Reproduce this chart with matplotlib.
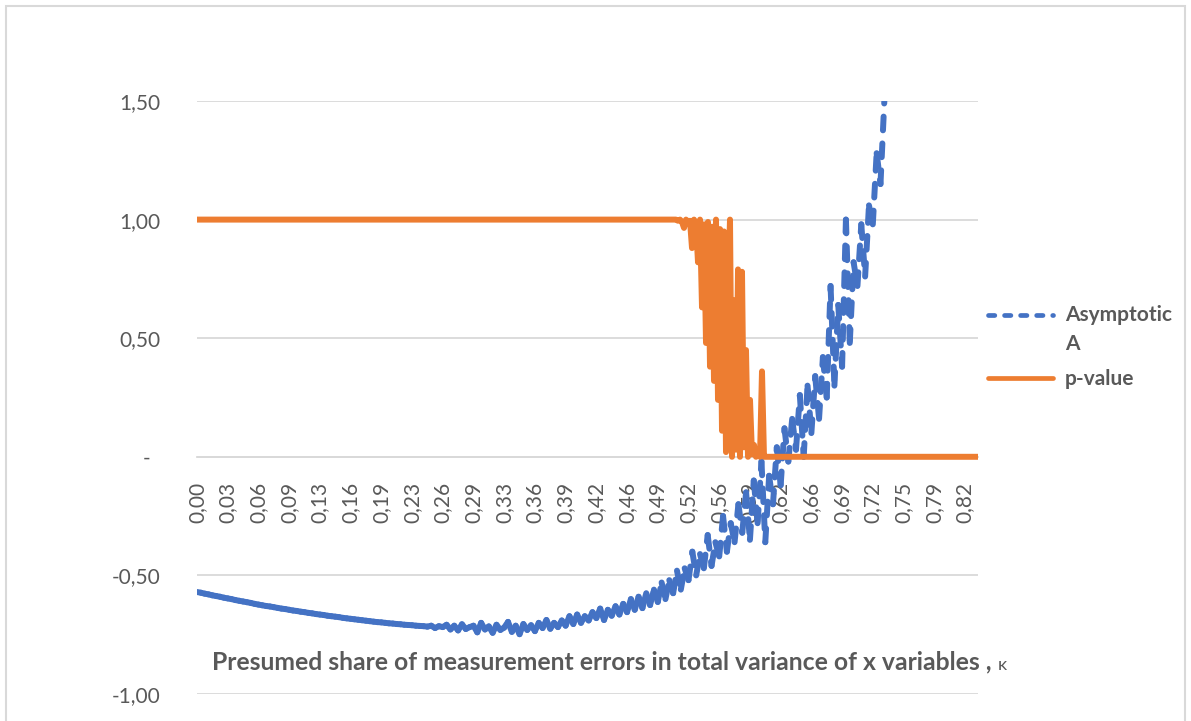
import numpy as np
import matplotlib
matplotlib.use("Agg")
import matplotlib.pyplot as plt
from matplotlib.collections import LineCollection
from matplotlib.lines import Line2D
from matplotlib.legend_handler import HandlerLine2D
from matplotlib.patches import Rectangle

plt.rcParams['font.family'] = ['Lato', 'DejaVu Sans']

# ---------------- data ----------------
kappa_step = 0.0041  # spacing of kappa categories for the "Asymptotic A" series
asym_A = [
    -0.570, -0.573, -0.577, -0.580, -0.584, -0.587, -0.590, -0.594,
    -0.597, -0.600, -0.604, -0.607, -0.610, -0.613, -0.616, -0.620,
    -0.623, -0.626, -0.629, -0.631, -0.634, -0.637, -0.640, -0.642,
    -0.645, -0.648, -0.650, -0.653, -0.655, -0.658, -0.660, -0.663,
    -0.665, -0.667, -0.670, -0.672, -0.674, -0.676, -0.679, -0.681,
    -0.683, -0.685, -0.687, -0.689, -0.691, -0.693, -0.695, -0.697,
    -0.698, -0.700, -0.702, -0.703, -0.705, -0.706, -0.708, -0.709,
    -0.710, -0.712, -0.713, -0.714, -0.716, -0.712, -0.722, -0.714,
    -0.718, -0.708, -0.728, -0.712, -0.732, -0.706, -0.726, -0.718,
    -0.712, -0.740, -0.700, -0.728, -0.715, -0.742, -0.708, -0.730,
    -0.720, -0.696, -0.738, -0.712, -0.748, -0.705, -0.730, -0.710,
    -0.735, -0.700, -0.722, -0.688, -0.725, -0.700, -0.718, -0.690,
    -0.712, -0.672, -0.705, -0.665, -0.700, -0.672, -0.690, -0.655,
    -0.680, -0.640, -0.688, -0.645, -0.670, -0.630, -0.665, -0.620,
    -0.655, -0.600, -0.645, -0.590, -0.638, -0.575, -0.625, -0.560,
    -0.612, -0.530, -0.600, -0.520, -0.575, -0.480, -0.560, -0.470,
    -0.520, -0.400, -0.500, -0.410, -0.470, -0.330, -0.460, -0.360,
    -0.420, -0.250, -0.400, -0.280, -0.360, -0.200, -0.320, -0.150,
    -0.350, -0.100, -0.280, -0.020, -0.360, -0.080, -0.200, 0.040,
    -0.120, 0.120, -0.020, 0.160, 0.030, 0.260, 0.000, 0.300,
    0.100, 0.340, 0.160, 0.420, 0.250, 0.720, 0.300, 0.640,
    0.380, 1.000, 0.480, 0.820, 0.720, 0.980, 0.760, 1.060,
    0.980, 1.280, 1.150, 1.500,
]

pvalue_flat_start = 0.0      # p-value equals 1 from here...
pvalue_noisy_start = 0.5072  # ...to here, then fluctuates
pvalue_step = 0.002135
pvalue_noisy = [
    1.00, 1.00, 1.00, 0.995, 1.00, 0.99, 0.965, 1.00,
    0.99, 0.995, 0.88, 1.00, 0.98, 0.82, 1.00, 0.63,
    0.98, 0.48, 0.99, 0.38, 0.97, 0.32, 1.00, 0.24,
    0.96, 0.11, 0.95, 0.02, 0.70, 1.00, 0.00, 0.66,
    0.03, 0.79, 0.00, 0.78, 0.04, 0.45, 0.00, 0.24,
    0.01, 0.05, 0.00, 0.02, 0.00, 0.36, 0.00, 0.00,
]
pvalue_end = 0.8336          # p-value stays 0 up to the last category

x_tick_labels = ['0,00', '0,03', '0,06', '0,09', '0,13', '0,16', '0,19', '0,23',
                 '0,26', '0,29', '0,33', '0,36', '0,39', '0,42', '0,46', '0,49',
                 '0,52', '0,56', '0,59', '0,62', '0,66', '0,69', '0,72', '0,75',
                 '0,79', '0,82']
x_tick_step = 0.0328
y_ticks = [-1.0, -0.5, 0.0, 0.5, 1.0, 1.5]
y_tick_labels = ['-1,00', '-0,50', '-  ', '0,50', '1,00', '1,50']

# ---------------- figure ----------------
W, H = 1191, 721
fig = plt.figure(figsize=(W / 100, H / 100), dpi=100)
fig.patches.append(Rectangle((6 / W, -0.02), (1185 - 6) / W, 1.02 - 6 / H,
                             transform=fig.transFigure, fill=False,
                             edgecolor='#D9D9D9', linewidth=1.5))

ax = fig.add_axes([197 / W, 1 - 694 / H, (977.7 - 197) / W, (694 - 101) / H])
grey = '#595959'
blue = '#4472C4'
orange = '#ED7D31'

for s in ['top', 'right', 'left']:
    ax.spines[s].set_visible(False)
ax.spines['bottom'].set_position(('data', 0))
ax.spines['bottom'].set_color('#D9D9D9')
ax.spines['bottom'].set_linewidth(1.3)

# Asymptotic A: dashed, dash pattern restarting at each data point (like Excel)
xa = np.arange(len(asym_A)) * kappa_step
pts = np.column_stack([xa, asym_A])
segs = np.stack([pts[:-1], pts[1:]], axis=1)
lc = LineCollection(segs, colors=blue, linewidths=4.3,
                    linestyles=[(0, (2.3, 2.2))], capstyle='round', zorder=3)
ax.add_collection(lc)

# p-value
xp = np.concatenate([[pvalue_flat_start],
                     pvalue_noisy_start + np.arange(len(pvalue_noisy)) * pvalue_step,
                     [pvalue_end]])
yp = np.concatenate([[1.0], pvalue_noisy, [0.0]])
ax.plot(xp, yp, color=orange, lw=4.3, solid_joinstyle='round', zorder=4)

ax.set_xlim(0, 0.8336)
ax.set_ylim(-1.0, 1.5)

ax.set_yticks(y_ticks)
ax.set_yticklabels(y_tick_labels)
ax.set_xticks(np.arange(len(x_tick_labels)) * x_tick_step)
ax.set_xticklabels(x_tick_labels)

ax.grid(axis='y', color='#D9D9D9', linewidth=1.3)
ax.set_axisbelow(True)
ax.tick_params(axis='both', length=0, labelsize=15, labelcolor=grey)
ax.tick_params(axis='x', pad=18, labelrotation=90)
ax.tick_params(axis='y', pad=26)

# axis title
t = fig.text(605 / W, 1 - 662 / H,
             'Presumed share of measurement errors in total variance of x variables , ',
             ha='center', va='center', fontsize=17.8, fontweight='bold', color=grey)
ax.annotate('κ', xy=(1, 0), xycoords=t, xytext=(0, 0), textcoords='offset points',
            ha='left', va='bottom', fontsize=13, color=grey, annotation_clip=False)


# legend (handle of the two-line entry aligned with its first line, as in Excel)
class TopLineHandler(HandlerLine2D):
    def __init__(self, shift_pt=0.0, **kw):
        super().__init__(**kw)
        self.shift_pt = shift_pt

    def create_artists(self, *args, **kwargs):
        arts = super().create_artists(*args, **kwargs)
        for a in arts:
            a.set_ydata(np.asarray(a.get_ydata(), dtype=float) + self.shift_pt)
        return arts


h1 = Line2D([], [], color=blue, lw=3.4, linestyle=(0, (1.34, 2.06)),
            dash_capstyle='round')
h2 = Line2D([], [], color=orange, lw=3.4, solid_capstyle='round')
leg = fig.legend([h1, h2], ['Asymptotic\nA', 'p-value'], loc='upper left',
                 bbox_to_anchor=(988 / W, 1 - 305 / H), frameon=False,
                 borderpad=0, borderaxespad=0, handlelength=3.1,
                 handletextpad=0.6, labelspacing=0.75,
                 prop={'size': 15, 'weight': 'bold'}, labelcolor=grey,
                 handler_map={h1: TopLineHandler(shift_pt=11.0)})
for txt in leg.get_texts():
    txt.set_linespacing(1.55)

fig.savefig('out.png', dpi=100)
